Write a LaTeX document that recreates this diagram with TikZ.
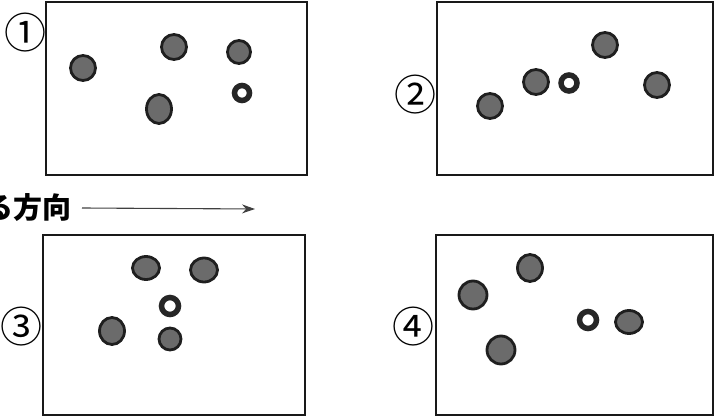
\documentclass[tikz,border=0pt]{standalone}
\usepackage{fontspec}
\newfontfamily\jpfont{Noto Sans CJK JP}
\usepackage{tikz}
\usetikzlibrary{shapes.geometric, arrows.meta, positioning}
\tikzset{
    panel/.style={draw=black!90, line width=2pt},
    disk/.style={ellipse, draw=black!88, line width=2.8pt, fill=black!58, inner sep=0pt, minimum size=25pt},
    ring/.style={circle, draw=black!85, line width=5.5pt, fill=white, inner sep=0pt, minimum size=16pt},
    num/.style={font=\jpfont\fontsize{42}{42}\selectfont, inner sep=0pt},
    dirarrow/.style={line width=1.1pt, draw=black!75, -{Stealth[length=13pt, width=9pt]}}
}

\begin{document}
\begin{tikzpicture}[x=1pt, y=-1pt]
        \useasboundingbox (0,0) rectangle (723,417);
        % Panels
        \draw [panel] (46,2) rectangle (307,175);
        \draw [panel] (437,2) rectangle (713,175);
        \draw [panel] (43,235) rectangle (305,415);
        \draw [panel] (436,235) rectangle (713,415);

        % Numbers
        \node (n1) [num] at (26,33) {①};
        \node (n2) [num] at (415,95) {②};
        \node (n3) [num] at (22,327) {③};
        \node (n4) [num] at (413,327) {④};

        % Panel 1
        \node (a1) [disk] at (83,68) {};
        \node (a2) [disk] at (174,47) {};
        \node (a3) [disk, minimum size=23pt] at (239,52) {};
        \node (a4) [disk, minimum width=25pt, minimum height=29pt] at (159,109) {};
        \node (ar) [ring, minimum size=15pt] at (242,93) {};

        % Panel 2
        \node (b1) [disk] at (490,106) {};
        \node (b2) [disk] at (536,82) {};
        \node (br) [ring] at (569,83) {};
        \node (b3) [disk] at (605,45) {};
        \node (b4) [disk] at (657,85) {};

        % Panel 3
        \node (c1) [disk, minimum width=27pt, minimum height=23pt] at (146,268) {};
        \node (c2) [disk, minimum width=27pt, minimum height=24pt] at (204,270) {};
        \node (cr) [ring, minimum size=17pt] at (170,306) {};
        \node (c3) [disk, minimum width=25pt, minimum height=27pt] at (112,331) {};
        \node (c4) [disk, minimum size=22pt] at (170,339) {};

        % Panel 4
        \node (d1) [disk, minimum width=25pt, minimum height=27pt] at (530,268) {};
        \node (d2) [disk, minimum size=28pt] at (473,295) {};
        \node (d3) [disk, minimum size=28pt] at (501,350) {};
        \node (dr) [ring, minimum size=17pt] at (588,320) {};
        \node (d4) [disk, minimum width=27pt, minimum height=23pt] at (629,322) {};

        % Direction
        \node (dir) [anchor=east, font=\jpfont\bfseries\fontsize{29}{29}\selectfont, inner sep=0pt] at (72,208) {る方向};
        \coordinate (tip) at (255,209);
        \draw [dirarrow] ([xshift=10pt]dir.east) -- (tip);
    \end{tikzpicture}
\end{document}
